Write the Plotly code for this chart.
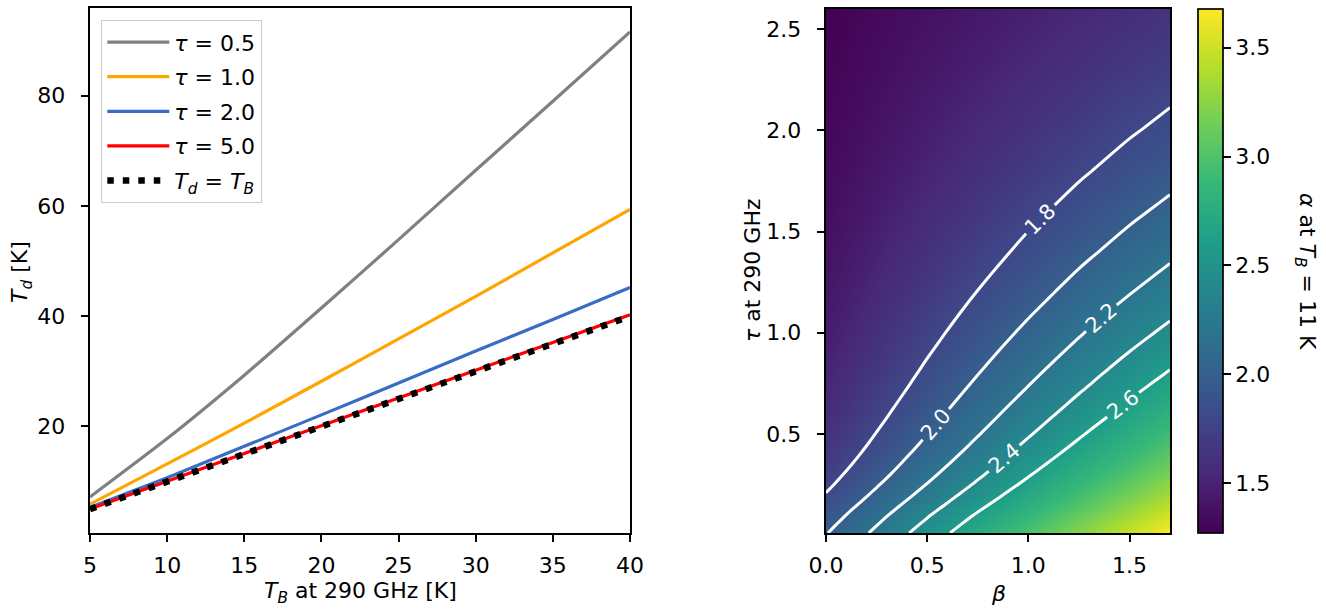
import plotly.graph_objects as go

# ---------------- data ----------------
TB = [5, 10, 15, 20, 25, 30, 35, 40]
td_tau05 = [7.2, 17.8, 29.3, 41.5, 53.9, 66.5, 79.0, 91.6]
td_tau10 = [5.9, 13.2, 20.6, 28.2, 35.9, 43.6, 51.5, 59.4]
td_tau20 = [5.3, 10.7, 16.4, 22.1, 27.9, 33.7, 39.4, 45.2]
td_tau50 = [5.03, 10.07, 15.10, 20.14, 25.17, 30.20, 35.24, 40.27]
td_equal = [5, 10, 15, 20, 25, 30, 35, 40]

beta_vals = [0.0, 0.25, 0.5, 0.75, 1.0, 1.25, 1.5, 1.7]
tau_vals = [0.01, 0.05, 0.1, 0.15, 0.2, 0.25, 0.3, 0.35, 0.4, 0.45, 0.5, 0.575,
            0.65, 0.725, 0.8, 0.9, 1.0, 1.1, 1.2, 1.4, 1.6, 1.8, 2.0, 2.3, 2.6]
alpha_tau0010 = [1.990, 2.239, 2.488, 2.736, 2.985, 3.234, 3.483, 3.682]
alpha_tau0050 = [1.952, 2.196, 2.440, 2.683, 2.927, 3.171, 3.415, 3.610]
alpha_tau0100 = [1.905, 2.143, 2.381, 2.618, 2.856, 3.094, 3.332, 3.522]
alpha_tau0150 = [1.855, 2.087, 2.319, 2.550, 2.782, 3.014, 3.246, 3.431]
alpha_tau0200 = [1.808, 2.034, 2.260, 2.485, 2.711, 2.937, 3.163, 3.343]
alpha_tau0250 = [1.765, 1.985, 2.205, 2.425, 2.645, 2.865, 3.085, 3.261]
alpha_tau0300 = [1.727, 1.941, 2.156, 2.370, 2.584, 2.798, 3.013, 3.184]
alpha_tau0350 = [1.693, 1.902, 2.111, 2.319, 2.528, 2.737, 2.946, 3.113]
alpha_tau0400 = [1.663, 1.866, 2.070, 2.273, 2.476, 2.679, 2.883, 3.045]
alpha_tau0450 = [1.636, 1.834, 2.032, 2.230, 2.428, 2.626, 2.824, 2.982]
alpha_tau0500 = [1.612, 1.805, 1.998, 2.190, 2.383, 2.576, 2.769, 2.923]
alpha_tau0575 = [1.580, 1.765, 1.950, 2.135, 2.320, 2.505, 2.690, 2.838]
alpha_tau0650 = [1.552, 1.730, 1.907, 2.085, 2.262, 2.440, 2.617, 2.759]
alpha_tau0725 = [1.527, 1.697, 1.868, 2.038, 2.208, 2.378, 2.549, 2.685]
alpha_tau0800 = [1.505, 1.668, 1.832, 1.995, 2.158, 2.321, 2.485, 2.615]
alpha_tau0900 = [1.479, 1.633, 1.788, 1.942, 2.096, 2.250, 2.405, 2.528]
alpha_tau1000 = [1.456, 1.602, 1.747, 1.893, 2.038, 2.184, 2.329, 2.445]
alpha_tau1100 = [1.435, 1.572, 1.710, 1.847, 1.984, 2.121, 2.259, 2.368]
alpha_tau1200 = [1.416, 1.545, 1.675, 1.804, 1.933, 2.062, 2.192, 2.295]
alpha_tau1400 = [1.383, 1.498, 1.612, 1.727, 1.841, 1.956, 2.070, 2.162]
alpha_tau1600 = [1.355, 1.456, 1.558, 1.659, 1.760, 1.861, 1.963, 2.044]
alpha_tau1800 = [1.332, 1.421, 1.510, 1.599, 1.688, 1.777, 1.866, 1.937]
alpha_tau2000 = [1.313, 1.391, 1.470, 1.548, 1.626, 1.704, 1.783, 1.845]
alpha_tau2300 = [1.290, 1.354, 1.418, 1.482, 1.546, 1.610, 1.674, 1.725]
alpha_tau2600 = [1.271, 1.323, 1.376, 1.428, 1.480, 1.532, 1.585, 1.626]
alpha_min, alpha_max = 1.271, 3.678
contour_levels = (1.8, 2.6, 0.2)

alpha_grid = [alpha_tau0010, alpha_tau0050, alpha_tau0100, alpha_tau0150, alpha_tau0200,
              alpha_tau0250, alpha_tau0300, alpha_tau0350, alpha_tau0400, alpha_tau0450,
              alpha_tau0500, alpha_tau0575, alpha_tau0650, alpha_tau0725, alpha_tau0800,
              alpha_tau0900, alpha_tau1000, alpha_tau1100, alpha_tau1200, alpha_tau1400,
              alpha_tau1600, alpha_tau1800, alpha_tau2000, alpha_tau2300, alpha_tau2600]

W, H = 1326, 610
FONT = "DejaVu Sans"
FS = 22

def px_x(p):
    return p / W

def px_y(p):
    return (H - p) / H

fig = go.Figure()

series = [
    ("<i>τ</i> = 0.5", td_tau05, "#808080"),
    ("<i>τ</i> = 1.0", td_tau10, "#ffa500"),
    ("<i>τ</i> = 2.0", td_tau20, "#386cc6"),
    ("<i>τ</i> = 5.0", td_tau50, "#ff0000"),
]
for i, (name, yv, col) in enumerate(series):
    fig.add_trace(go.Scatter(
        x=TB, y=yv, mode="lines", name=name, legendgroup=f"g{i}",
        line=dict(color=col, width=3.2, shape="spline", smoothing=0.6),
        xaxis="x", yaxis="y"))
fig.add_trace(go.Scatter(
    x=TB, y=td_equal, mode="lines", name="<i>T<sub>d</sub></i> = <i>T<sub>B</sub></i>",
    legendgroup="g9",
    line=dict(color="black", width=6.5, dash="6.5px,9px"),
    xaxis="x", yaxis="y"))

fig.add_trace(go.Heatmap(
    x=beta_vals, y=tau_vals, z=alpha_grid, colorscale="Viridis",
    zmin=alpha_min, zmax=alpha_max, zsmooth="best", xaxis="x2", yaxis="y2",
    hoverinfo="skip",
    colorbar=dict(
        x=px_x(1198), xanchor="left", xpad=0, ypad=0,
        y=(px_y(533) + px_y(9)) / 2, yanchor="middle",
        len=(533 - 9) / H, lenmode="fraction",
        thickness=25, thicknessmode="pixels",
        outlinecolor="black", outlinewidth=1.7,
        ticks="outside", ticklen=7.5, tickwidth=1.7, tickcolor="black",
        tickvals=[1.5, 2.0, 2.5, 3.0, 3.5], tickformat=".1f",
        tickfont=dict(family=FONT, size=FS, color="black"))))

fig.add_trace(go.Contour(
    x=beta_vals, y=tau_vals, z=alpha_grid, xaxis="x2", yaxis="y2",
    contours=dict(start=contour_levels[0], end=contour_levels[1], size=contour_levels[2],
                  coloring="lines", showlabels=True, labelformat=".1f",
                  labelfont=dict(family=FONT, size=21, color="white")),
    colorscale=[[0, "white"], [1, "white"]], showscale=False,
    line=dict(width=3, smoothing=1.0), hoverinfo="skip", showlegend=False))

axis_common = dict(showline=True, mirror=True, linecolor="black", linewidth=1.7,
                   ticks="outside", ticklen=7.5, tickwidth=1.7, tickcolor="black",
                   showgrid=False, zeroline=False, automargin=False,
                   tickfont=dict(family=FONT, size=FS, color="black"))

fig.update_layout(
    width=W, height=H, margin=dict(l=0, r=0, t=0, b=0, autoexpand=False),
    paper_bgcolor="white", plot_bgcolor="white",
    font=dict(family=FONT, size=FS, color="black"),
    xaxis=dict(domain=[px_x(90), px_x(630)], range=[5, 40],
               tickvals=[5, 10, 15, 20, 25, 30, 35, 40], anchor="y",
               ticklabelstandoff=4, **axis_common),
    yaxis=dict(domain=[px_y(533), px_y(8)], range=[0.67, 95.93],
               tickvals=[20, 40, 60, 80], anchor="x", ticklabelstandoff=11, **axis_common),
    xaxis2=dict(domain=[px_x(826), px_x(1170)], range=[0, 1.7],
                tickvals=[0, 0.5, 1.0, 1.5], tickformat=".1f", anchor="y2",
                ticklabelstandoff=4, **axis_common),
    yaxis2=dict(domain=[px_y(533), px_y(9)], range=[0.01, 2.6],
                tickvals=[0.5, 1.0, 1.5, 2.0, 2.5], tickformat=".1f", anchor="x2",
                ticklabelstandoff=11, **axis_common),
    legend=dict(x=px_x(101), y=px_y(20), xanchor="left", yanchor="top",
                bgcolor="rgba(255,255,255,0.8)", bordercolor="#cccccc", borderwidth=1.3,
                font=dict(family=FONT, size=FS, color="black"),
                tracegroupgap=3, itemwidth=62),
    showlegend=True,
)

annos = [
    dict(text="<i>T<sub>B</sub></i> at 290 GHz [K]", x=px_x(360), y=px_y(592), textangle=0),
    dict(text="<i>T<sub>d</sub></i> [K]", x=px_x(21), y=px_y(272), textangle=-90),
    dict(text="<i>β</i>", x=px_x(998), y=px_y(593), textangle=0),
    dict(text="<i>τ</i> at 290 GHz", x=px_x(752), y=px_y(271), textangle=-90),
    dict(text="<i>α</i> at <i>T<sub>B</sub></i> = 11 K", x=px_x(1306), y=px_y(271), textangle=90),
]
for a in annos:
    fig.add_annotation(xref="paper", yref="paper", showarrow=False,
                       xanchor="center", yanchor="middle",
                       font=dict(family=FONT, size=FS, color="black"), **a)

fig.write_html("out.html", config={"displayModeBar": False},
               post_script="document.body.style.margin='0';")
